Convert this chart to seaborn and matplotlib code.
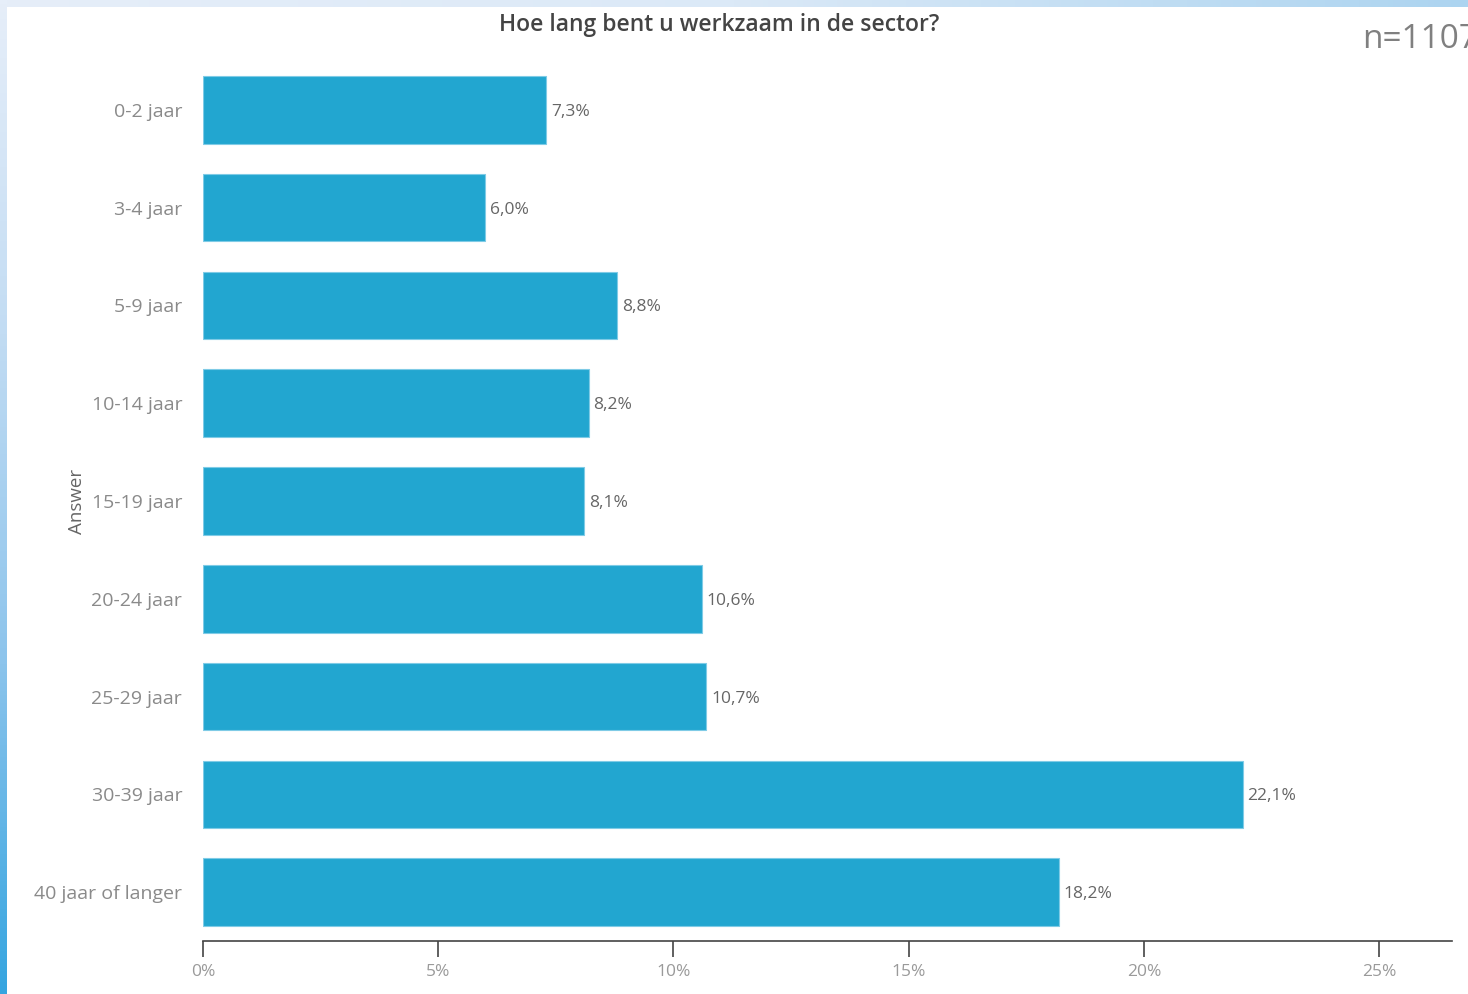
import numpy as np
import pandas as pd
import matplotlib
matplotlib.use("Agg")
import matplotlib.pyplot as plt
import seaborn as sns
from matplotlib.colors import LinearSegmentedColormap

# Survey answers and shares (%)
categories = ["0-2 jaar", "3-4 jaar", "5-9 jaar", "10-14 jaar", "15-19 jaar",
              "20-24 jaar", "25-29 jaar", "30-39 jaar", "40 jaar of langer"]
shares = [7.3, 6.0, 8.8, 8.2, 8.1, 10.6, 10.7, 22.1, 18.2]
x_ticks = [0, 5, 10, 15, 20, 25]
title = "Hoe lang bent u werkzaam in de sector?"
sample_note = "n=1107"

df = pd.DataFrame({"Answer": categories, "Share": shares})

sns.set_theme(style="white")
plt.rcParams["font.family"] = ["Open Sans", "DejaVu Sans"]

W, H = 1468, 994
fig = plt.figure(figsize=(W / 100, H / 100), dpi=100)
fig.patch.set_facecolor("white")

# Slide frame: thin blue gradient along the top and left edges
bg = fig.add_axes([0, 0, 1, 1], zorder=-10)
bg.set_xlim(0, W)
bg.set_ylim(H, 0)
bg.axis("off")
top_cmap = LinearSegmentedColormap.from_list("top", ["#e6eef9", "#dbe9f7", "#acd4f0"])
left_cmap = LinearSegmentedColormap.from_list("left", ["#e6eef9", "#c2dcf3", "#8cc4ec", "#35a5e0"])
bg.imshow(np.linspace(0, 1, 256)[None, :], cmap=top_cmap, aspect="auto",
          extent=(0, W, 7, 0))
bg.imshow(np.linspace(0, 1, 256)[:, None], cmap=left_cmap, aspect="auto",
          extent=(0, 7, H, 0))

ax = fig.add_axes([203 / W, 1 - 941 / H, (1452 - 203) / W, (941 - 61) / H])
sns.barplot(data=df, x="Share", y="Answer", orient="h", color="#22a6d0",
            saturation=1, width=0.69, edgecolor="#7fcbe6", linewidth=0.8, ax=ax)

ax.set_xlim(0, 26.55)
ax.set_ylim(8.5, -0.5)
ax.set_xticks(x_ticks)
ax.set_xticklabels([f"{t}%" for t in x_ticks], color="#9a9a9a", fontsize=12.5)
ax.tick_params(axis="x", bottom=True, length=11.5, width=1.2, color="#444444",
               pad=5, direction="out")
ax.tick_params(axis="y", left=False, length=0, pad=15)
for lbl in ax.get_yticklabels():
    lbl.set_color("#8a8a8a")
    lbl.set_fontsize(14)

for side in ["top", "right", "left"]:
    ax.spines[side].set_visible(False)
ax.spines["bottom"].set_color("#444444")
ax.spines["bottom"].set_linewidth(1.2)

ax.set_xlabel("")
ax.set_ylabel("Answer", color="#666666", fontsize=13.5)
ax.yaxis.set_label_coords(-0.094, 0.5)

for i, v in enumerate(shares):
    ax.text(v + 0.1, i, f"{v:.1f}%".replace(".", ","), va="center_baseline",
            ha="left", fontsize=12.5, color="#666666")

fig.text(719 / W, 1 - 25 / H, title, ha="center", va="center",
         fontsize=16.5, color="#444444", fontweight="semibold")
fig.text(1362 / W, 1 - 39 / H, sample_note, ha="left", va="center",
         fontsize=24, color="#808080")

fig.savefig("out.png", dpi=100, facecolor="white")
